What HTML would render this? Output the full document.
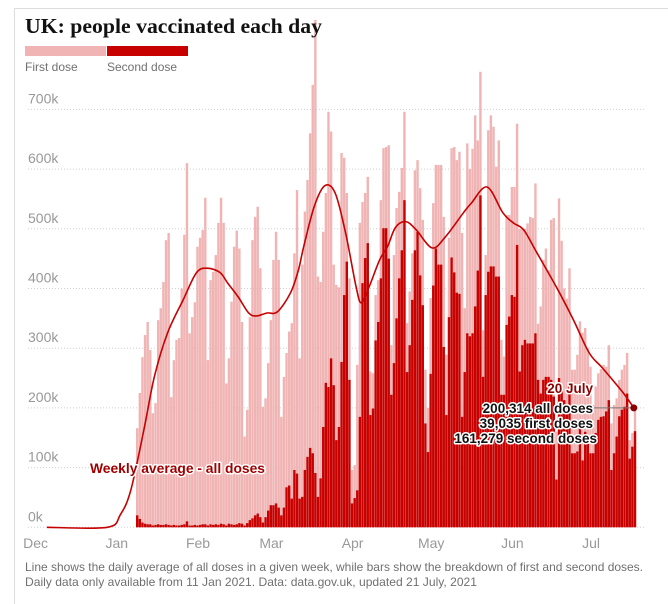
<!DOCTYPE html>
<html><head><meta charset="utf-8"><style>
html,body{margin:0;padding:0;background:#fff;}
svg{display:block;font-family:"Liberation Sans",sans-serif;}
</style></head><body>
<svg id="chart" width="668" height="604" viewBox="0 0 668 604" xmlns="http://www.w3.org/2000/svg">
<line x1="14.5" y1="8" x2="14.5" y2="604" stroke="#dcdcdc" stroke-width="1"/>
<line x1="14" y1="8.5" x2="668" y2="8.5" stroke="#dcdcdc" stroke-width="1"/>
<g id="grid"></g>
<g id="bars"></g>
<g id="avg"></g>
<g id="labels"></g>
<text x="25" y="33" font-family="'Liberation Serif',serif" font-weight="bold" font-size="21" fill="#121212" textLength="297" lengthAdjust="spacingAndGlyphs">UK: people vaccinated each day</text>
<rect x="25" y="46" width="81" height="10" fill="#f0b4b4"/>
<rect x="107" y="46" width="81" height="10" fill="#c70000"/>
<text x="25" y="71" font-size="12" fill="#707070">First dose</text>
<text x="107" y="71" font-size="12" fill="#707070">Second dose</text>
<text x="25" y="571" font-size="12" fill="#707070" textLength="618" lengthAdjust="spacingAndGlyphs">Line shows the daily average of all doses in a given week, while bars show the breakdown of first and second doses.</text>
<text x="25" y="586" font-size="12" fill="#707070" textLength="452" lengthAdjust="spacingAndGlyphs">Daily data only available from 11 Jan 2021. Data: data.gov.uk, updated 21 July, 2021</text>
</svg>
<script>
// day index 0 = 11 Jan 2021; values in thousands
const allDoses = [
166,225,285,322,344,297,191,
208,347,367,411,481,493,218,
280,314,317,400,490,610,325,
352,377,470,485,498,552,280,
414,428,456,510,552,510,241,
283,378,470,497,467,344,152,
197,352,481,520,537,434,202,
216,275,347,448,495,448,185,
252,292,328,342,459,565,283,
440,529,582,660,741,850,420,
411,495,560,696,663,440,406,
402,627,619,560,417,96,104,
272,510,545,560,587,261,258,
389,414,548,635,637,640,305,
456,535,562,602,696,342,395,
459,598,615,568,515,264,200,
384,543,607,607,607,520,289,
485,635,637,615,629,493,367,
643,600,634,690,648,763,330,
456,665,690,671,604,648,314,
286,523,523,570,570,676,500,
500,500,509,520,518,576,341,
370,448,467,431,515,518,160,
551,480,400,383,434,264,264,
289,345,326,334,300,269,205,
236,258,265,272,269,305,174,
205,216,247,264,272,292,146,
158,200];
const secondDoses = [
20,14,8,6,5,5,3,
4,5,4,4,5,4,3,
4,3,3,4,5,10,3,
3,4,3,4,5,5,3,
5,4,5,4,6,5,3,
6,5,4,5,7,6,3,
7,12,15,20,23,17,8,
17,28,37,37,40,33,20,
33,67,70,48,96,90,48,
51,96,118,133,124,91,51,
82,168,242,235,283,238,146,
168,277,389,445,247,40,49,
62,185,409,451,476,188,199,
313,344,417,501,501,450,222,
275,350,417,464,548,260,305,
381,464,495,422,372,174,126,
257,405,467,440,440,302,188,
352,452,427,393,391,185,260,
325,320,325,370,430,556,252,
389,428,437,437,420,420,222,
222,339,353,389,386,473,261,
305,314,308,308,308,325,247,
224,247,252,252,247,219,80,
250,230,213,200,236,124,124,
127,166,112,160,150,124,124,
158,180,185,186,194,213,96,
124,152,186,197,202,224,115,
135,161];
const avgDays = [-34,-11,-6,-2,3,7,12,18,23,27,32,35,39,43,46,50,54,59,62,64,68,72,76,80,84,86,89,93,96,99,103,107,113,118,125,128,134,140,144,148,153,161,167,173,178,186,190];
const avgValues = [0,0,21,62,163,252,325,381,426,434,427,409,386,359,354,359,361,393,431,470,537,572,560,493,403,376,403,448,470,502,512,498,468,486,527,543,570,527,510,498,460,398,347,292,267,225,200];
const yTicks = [0,100,200,300,400,500,600,700];
const yTickLabels = ["0k","100k","200k","300k","400k","500k","600k","700k"];
const monthDays = [-41,-10,21,49,80,110,141,171];
const monthLabels = ["Dec","Jan","Feb","Mar","Apr","May","Jun","Jul"];

const NS = "http://www.w3.org/2000/svg";
const X0 = 136, DX = 2.62, Y0 = 527.3, KY = 0.597;
function xs(d){ return X0 + DX*d; }
function ys(v){ return Y0 - v*KY; }
function mk(tag, attrs, parent){
  const el = document.createElementNS(NS, tag);
  for (const k in attrs) el.setAttribute(k, attrs[k]);
  parent.appendChild(el);
  return el;
}
const grid = document.getElementById('grid');
const bars = document.getElementById('bars');
const avg = document.getElementById('avg');
const labels = document.getElementById('labels');

yTicks.forEach((t, i) => {
  const ln = mk('line', {x1: 28, x2: 645, y1: ys(t), y2: ys(t), stroke: '#cfcfcf', 'stroke-width': 1, 'stroke-dasharray': '1,2'}, grid);
  
  
  const tx = mk('text', {x: 28, y: ys(t) - 6, 'font-size': 14, fill: '#999'}, labels);
  tx.textContent = yTickLabels[i];
  
  
});
monthDays.forEach((d, i) => {
  const tx = mk('text', {x: xs(d) + 7, y: 548, 'font-size': 14, fill: '#999', 'text-anchor': 'middle'}, labels);
  tx.textContent = monthLabels[i];
  
  
});
allDoses.forEach((v, i) => {
  const r = mk('rect', {x: xs(i), y: ys(v), width: 2.4, height: v*KY, fill: '#f0b4b4'}, bars);
  
  
  const s = secondDoses[i];
  const r2 = mk('rect', {x: xs(i), y: ys(s), width: 2.4, height: s*KY, fill: '#c70000'}, bars);
  
  
});
// smooth line (Catmull-Rom)
const pts = avgDays.map((d, i) => [xs(d), ys(avgValues[i])]);
let dstr = 'M' + pts[0][0] + ',' + pts[0][1];
for (let i = 0; i < pts.length - 1; i++) {
  const p0 = pts[Math.max(0, i-1)], p1 = pts[i], p2 = pts[i+1], p3 = pts[Math.min(pts.length-1, i+2)];
  const c1 = [p1[0] + (p2[0]-p0[0])/6, p1[1] + (p2[1]-p0[1])/6];
  const c2 = [p2[0] - (p3[0]-p1[0])/6, p2[1] - (p3[1]-p1[1])/6];
  dstr += ' C' + c1[0] + ',' + c1[1] + ' ' + c2[0] + ',' + c2[1] + ' ' + p2[0] + ',' + p2[1];
}
const path = mk('path', {d: dstr, fill: 'none', stroke: '#c70000', 'stroke-width': 1.6}, avg);


const last = pts[pts.length-1];
const lead = mk('line', {x1: 594, x2: last[0], y1: last[1], y2: last[1], stroke: '#777', 'stroke-width': 1}, avg);


const dot = mk('circle', {cx: last[0], cy: last[1], r: 3.5, fill: '#8b0000'}, avg);


const ann = [["20 July", "#8b0000", 393], ["200,314 all doses", "#121212", 413], ["39,035 first doses", "#121212", 428], ["161,279 second doses", "#121212", 443]];
ann.forEach((a, i) => {
  const t = mk('text', {x: i === 3 ? 597 : 593, y: a[2], 'font-size': 13.5, 'font-weight': 'bold', fill: a[1], 'text-anchor': 'end', stroke: '#fff', 'stroke-width': 3, 'paint-order': 'stroke', 'stroke-linejoin': 'round'}, avg);
  t.textContent = a[0];
  
  
});
const wl = mk('text', {x: 90, y: 473, 'font-size': 13.5, 'font-weight': 'bold', fill: '#a00000', stroke: '#fff', 'stroke-width': 3, 'paint-order': 'stroke', 'stroke-linejoin': 'round', textLength: 175, lengthAdjust: 'spacingAndGlyphs'}, avg);
wl.textContent = 'Weekly average - all doses';


</script>
</body></html>
